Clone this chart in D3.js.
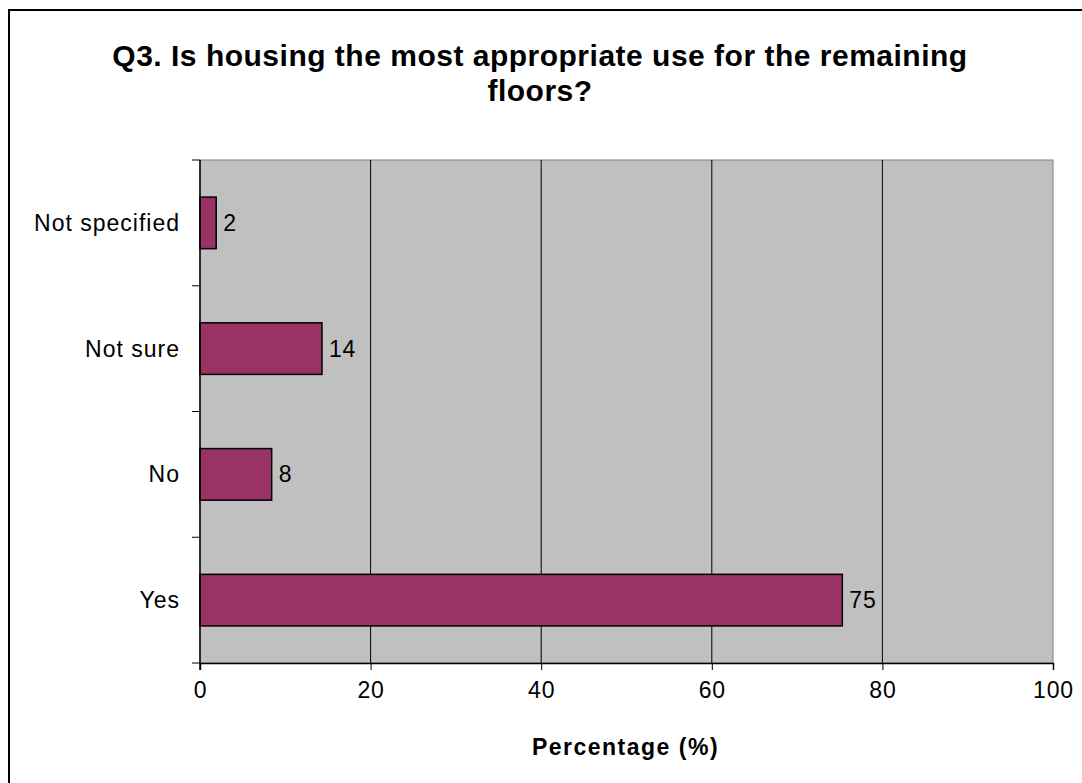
<!DOCTYPE html>
<html>
<head>
<meta charset="utf-8">
<script src="https://cdn.jsdelivr.net/npm/d3@7"></script>
<style>
  body { margin: 0; background: white; }
  svg { display: block; font-family: "Liberation Sans", Arial, sans-serif; }
</style>
</head>
<body>
<div id="chart"></div>
<script>
var categories = ["Not specified", "Not sure", "No", "Yes"];
var values = [1.9, 14.3, 8.4, 75.3];
var xTicks = [0, 20, 40, 60, 80, 100];
var titleLines = ["Q3. Is housing the most appropriate use for the remaining", "floors?"];
var xTitle = "Percentage (%)";

var data = categories.map(function (c, i) { return { cat: c, val: values[i] }; });

var W = 1082, H = 783;
var margin = { left: 200, top: 160, right: 29, bottom: 120 };
var width = 1053 - margin.left, height = 663 - margin.top;

var svg = d3.select("#chart").append("svg")
  .attr("width", W).attr("height", H);

// outer frame
svg.append("rect")
  .attr("x", 9).attr("y", 10)
  .attr("width", 1200).attr("height", 900)
  .attr("fill", "white").attr("stroke", "black").attr("stroke-width", 2);

svg.selectAll("text.title")
  .data(titleLines)
  .enter().append("text")
  .attr("class", "title")
  .attr("x", 540).attr("y", (d, i) => 66 + i * 35)
  .attr("text-anchor", "middle")
  .style("font-size", "30px").style("font-weight", "bold")
  .style("letter-spacing", "0.5px")
  .text(d => d);

var g = svg.append("g").attr("transform", "translate(" + margin.left + "," + margin.top + ")");

var x = d3.scaleLinear().domain([0, 100]).range([0, width]);
var y = d3.scaleBand().domain(categories).range([0, height]).paddingInner(0.59).paddingOuter(0.295);
var yb = d3.scaleBand().domain(categories).range([0, height]);

g.append("rect").attr("width", width).attr("height", height)
  .attr("fill", "#c0c0c0").attr("stroke", "#808080").attr("stroke-width", 1);

g.append("g").selectAll("line")
  .data(xTicks.slice(1, -1))
  .enter().append("line")
  .attr("x1", d => x(d)).attr("x2", d => x(d))
  .attr("y1", 0).attr("y2", height)
  .attr("stroke", "black").attr("stroke-width", 1);

g.selectAll("rect.bar")
  .data(data)
  .enter().append("rect")
  .attr("class", "bar")
  .attr("x", 0)
  .attr("y", d => y(d.cat))
  .attr("width", d => x(d.val))
  .attr("height", y.bandwidth())
  .attr("fill", "#993366").attr("stroke", "black").attr("stroke-width", 1.5);

g.selectAll("text.lbl")
  .data(data)
  .enter().append("text")
  .attr("class", "lbl")
  .attr("x", d => x(d.val) + 7)
  .attr("y", d => y(d.cat) + y.bandwidth() / 2)
  .attr("dy", "0.35em")
  .style("font-size", "23px").style("letter-spacing", "0.8px")
  .text(d => d3.format(".0f")(d.val));

// x axis
var xAxis = g.append("g").attr("transform", "translate(0," + height + ")")
  .call(d3.axisBottom(x).tickValues(xTicks).tickSize(7).tickPadding(12));
xAxis.select(".domain").attr("stroke", "black").attr("stroke-width", 1.5);
xAxis.selectAll("text").style("font-size", "23px").style("letter-spacing", "0.8px")
  .style("font-family", "Liberation Sans, Arial, sans-serif").attr("fill", "black");

// y axis with ticks between categories
var yAxis = g.append("g");
yAxis.append("line").attr("x1", 0).attr("x2", 0).attr("y1", 0).attr("y2", height + 7)
  .attr("stroke", "black").attr("stroke-width", 1.5);
yAxis.selectAll("line.tk")
  .data(d3.range(categories.length + 1))
  .enter().append("line")
  .attr("class", "tk")
  .attr("x1", -8).attr("x2", 0)
  .attr("y1", i => i * yb.bandwidth()).attr("y2", i => i * yb.bandwidth())
  .attr("stroke", "black");
yAxis.selectAll("text")
  .data(categories)
  .enter().append("text")
  .attr("x", -20)
  .attr("y", d => yb(d) + yb.bandwidth() / 2)
  .attr("dy", "0.35em")
  .attr("text-anchor", "end")
  .style("font-size", "23px").style("letter-spacing", "1px")
  .text(d => d);

svg.append("text")
  .attr("x", margin.left + width / 2 - 1).attr("y", 755)
  .attr("text-anchor", "middle")
  .style("font-size", "23px").style("font-weight", "bold")
  .style("letter-spacing", "1.5px")
  .text(xTitle);
</script>
</body>
</html>
